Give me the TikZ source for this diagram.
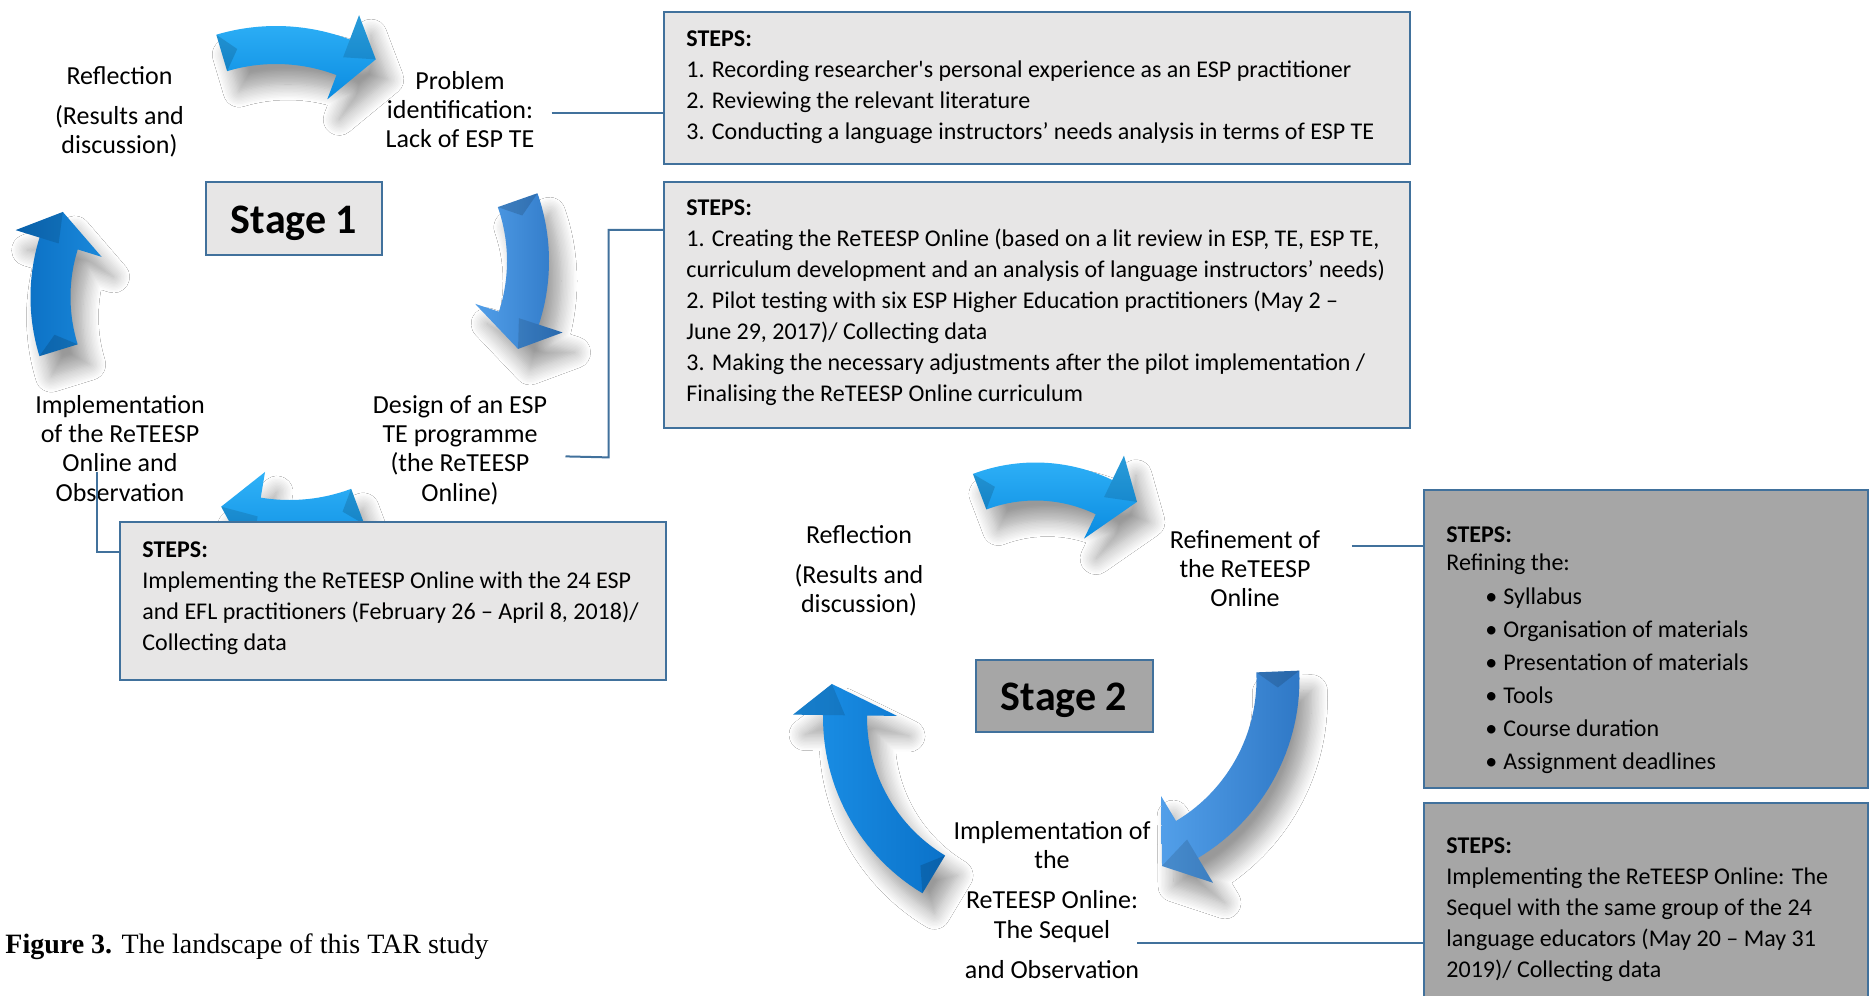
\documentclass[tikz,border=0pt]{standalone}
\usepackage{fontspec}
\setmainfont{Carlito}
\newfontfamily\capfont{Liberation Serif}
\usetikzlibrary{calc,shadows.blur}

\definecolor{edgeblue}{HTML}{41719C}
\definecolor{paleback}{HTML}{E7E6E6}
\definecolor{darkback}{HTML}{A6A6A6}
\definecolor{skyA}{HTML}{30B2F8}
\definecolor{skyB}{HTML}{0A8BE0}
\definecolor{steelA}{HTML}{529FE9}
\definecolor{steelB}{HTML}{2F78C6}
\definecolor{deepA}{HTML}{0A6EC2}
\definecolor{deepB}{HTML}{1A88DA}
\definecolor{deepC}{HTML}{1C92E9}
\definecolor{deepD}{HTML}{0B72C9}

\tikzset{
  stepsbox/.style={draw=edgeblue, line width=1.2pt, inner sep=0pt, outer sep=0pt, anchor=north west},
  palebox/.style={stepsbox, fill=paleback},
  greybox/.style={stepsbox, fill=darkback},
  cyclelbl/.style={font=\fontsize{13pt}{14.6pt}\selectfont, align=center, inner sep=0pt, anchor=north},
  stepstxt/.style={font=\fontsize{12pt}{15.5pt}\selectfont, align=left, inner sep=0pt, anchor=north west},
  stagelbl/.style={font=\fontsize{21pt}{25pt}\selectfont\bfseries, inner sep=0pt, anchor=base},
  conn/.style={draw=edgeblue, line width=1pt},
  arrowshadow/.style={blur shadow={shadow xshift=6pt, shadow yshift=-10pt,
      shadow blur radius=8pt, shadow blur steps=12, shadow opacity=40}},
}

% Curved block arrow running clockwise round a centre.
% #1 centre (x,y)  #2 mid radius  #3 band width  #4 head width
% #5 tail angle  #6 head base angle  #7 tip angle  #8 extra tip radius
% #9 fill options
\newcommand\cyclearrow[9]{%
  \pgfmathsetmacro\arRo{#2+#3/2}%
  \pgfmathsetmacro\arRi{#2-#3/2}%
  \pgfmathsetmacro\arHo{#2+#4/2}%
  \pgfmathsetmacro\arHi{#2-#4/2}%
  \pgfmathsetmacro\arTip{#2+#8}%
  \pgfmathsetmacro\arDt{16/#2*57.3}%
  \begin{scope}[shift={(#1)}]
    \path[arrowshadow,#9]
      plot[domain=#5:#6,samples=30] ({\arRo*cos(\x)},{-\arRo*sin(\x)})
      -- ({\arHo*cos(#6)},{-\arHo*sin(#6)})
      -- ({\arTip*cos(#7)},{-\arTip*sin(#7)})
      -- ({\arHi*cos(#6)},{-\arHi*sin(#6)})
      -- plot[domain=#6:#5,samples=30] ({\arRi*cos(\x)},{-\arRi*sin(\x)})
      -- cycle;
    % bevel facets at the tail and on the outer half of the head
    \fill[black,opacity=0.14] ({\arRo*cos(#5)},{-\arRo*sin(#5)})
      -- ({#2*cos(#5-\arDt)},{-#2*sin(#5-\arDt)})
      -- ({\arRi*cos(#5)},{-\arRi*sin(#5)}) -- cycle;
    \fill[black,opacity=0.12] ({\arHo*cos(#6)},{-\arHo*sin(#6)})
      -- ({\arTip*cos(#7)},{-\arTip*sin(#7)})
      -- ({#2*cos(#6)},{-#2*sin(#6)}) -- cycle;
  \end{scope}}

\begin{document}
\begin{tikzpicture}[x=0.5pt, y=-0.5pt]
\useasboundingbox (0,0) rectangle (1871,995);
\clip (0,0) rectangle (1871,995);
\fill[white] (0,0) rectangle (1871,995);

% ---------- Stage 1 cycle arrows ----------
\cyclearrow{276,235}{190}{38}{90}{106.6}{69.3}{60.4}{12}{top color=skyA, bottom color=skyB}
\cyclearrow{344,261}{184}{42}{92}{19.3}{-18.1}{-26.8}{11}{left color=steelA, right color=steelB}
\cyclearrow{289.5,324}{195}{38}{90}{-69.5}{-99.4}{-110.5}{0}{top color=skyA, bottom color=skyB}
\cyclearrow{230.5,297}{180}{40}{90}{197.2}{162.7}{153.1}{8}{left color=deepA, right color=deepB}

% ---------- Stage 2 cycle arrows ----------
\cyclearrow{1035.5,639.5}{158}{38}{92}{110.7}{64.3}{53.6}{13}{top color=skyA, bottom color=skyB}
\cyclearrow{1091,679}{187}{43}{101}{2.3}{-59.1}{-69.2}{13}{left color=steelA, right color=steelB}
\cyclearrow{1028,717.5}{183}{44}{104}{239}{179.3}{170.3}{16}{left color=deepC, right color=deepD}

% ---------- boxes ----------
\node[palebox, minimum width=373pt, minimum height=76pt]  (b1) at (664,12) {};
\node[palebox, minimum width=373pt, minimum height=123pt] (b2) at (664,182) {};
\node[palebox, minimum width=273pt, minimum height=79pt]  (b3) at (120,522) {};
\node[greybox, minimum width=222pt, minimum height=149pt] (b4) at (1424,490) {};
\node[greybox, minimum width=222pt, minimum height=110pt] (b5) at (1424,803) {};
\node[palebox, minimum width=88pt, minimum height=36.5pt] (st1) at (206,182) {};
\node[greybox, minimum width=88.5pt, minimum height=36pt] (st2) at (976,660) {};

\node[stagelbl] (st1t) at (294,233) {Stage 1};
\node[stagelbl] (st2t) at (1064,710) {Stage 2};

% ---------- box texts ----------
\node[stepstxt] (t1) at (686,24) {\strut\textbf{STEPS:}\\
  \strut 1. Recording researcher\textquotesingle s personal experience as an ESP practitioner\\
  \strut 2. Reviewing the relevant literature\\
  \strut 3. Conducting a language instructors’ needs analysis in terms of ESP TE};

\node[stepstxt] (t2) at (686,193.3) {\strut\textbf{STEPS:}\\
  \strut 1. Creating the ReTEESP Online (based on a lit review in ESP, TE, ESP TE,\\
  \strut curriculum development and an analysis of language instructors’ needs)\\
  \strut 2. Pilot testing with six ESP Higher Education practitioners (May 2 –\\
  \strut June 29, 2017)/ Collecting data\\
  \strut 3. Making the necessary adjustments after the pilot implementation /\\
  \strut Finalising the ReTEESP Online curriculum};

\node[stepstxt] (t3) at (142,535.3) {\strut\textbf{STEPS:}\\
  \strut Implementing the ReTEESP Online with the 24 ESP\\
  \strut and EFL practitioners (February 26 – April 8, 2018)/\\
  \strut Collecting data};

\node[stepstxt, font=\fontsize{12pt}{16.5pt}\selectfont] (t4) at (1446,518.9) {\strut\textbf{STEPS:}\\[-2.5pt]
  \strut Refining the:\\[0.5pt]
  \strut\hspace*{19.5pt}\makebox[9pt][l]{•}Syllabus\\
  \strut\hspace*{19.5pt}\makebox[9pt][l]{•}Organisation of materials\\
  \strut\hspace*{19.5pt}\makebox[9pt][l]{•}Presentation of materials\\
  \strut\hspace*{19.5pt}\makebox[9pt][l]{•}Tools\\
  \strut\hspace*{19.5pt}\makebox[9pt][l]{•}Course duration\\
  \strut\hspace*{19.5pt}\makebox[9pt][l]{•}Assignment deadlines};

\node[stepstxt] (t5) at (1446,831.3) {\strut\textbf{STEPS:}\\
  \strut Implementing the ReTEESP Online: The\\
  \strut Sequel with the same group of the 24\\
  \strut language educators (May 20 – May 31\\
  \strut 2019)/ Collecting data};

% ---------- cycle labels ----------
\node[cyclelbl] (r1) at (119.5,63.6) {\strut Reflection\\[5.4pt] \strut(Results and\\ \strut discussion)};
\node[cyclelbl] (p1) at (460,68.6) {\strut Problem\\ \strut identification:\\ \strut Lack of ESP TE};
\node[cyclelbl] (d1) at (460,392.6) {\strut Design of an ESP\\ \strut TE programme\\ \strut(the ReTEESP\\ \strut Online)};
\node[cyclelbl] (i1) at (120,392.6) {\strut Implementation\\ \strut of the ReTEESP\\ \strut Online and\\ \strut Observation};

\node[cyclelbl] (r2) at (859,523) {\strut Reflection\\[5.2pt] \strut(Results and\\ \strut discussion)};
\node[cyclelbl] (f2) at (1245,527.6) {\strut Refinement of\\ \strut the ReTEESP\\ \strut Online};
\node[cyclelbl] (s2) at (1052,818.6) {\strut Implementation of\\ \strut the\\[5.5pt] \strut ReTEESP Online:\\ \strut The Sequel\\[5.6pt] \strut and Observation};

% ---------- connectors ----------
\coordinate (p1out) at ([xshift=8.5pt]p1.east);
\coordinate (d1out) at ([xshift=9pt,yshift=-2.5pt]d1.east);
\coordinate (i1out) at ([xshift=-11.5pt,yshift=19.2pt]i1.south);
\coordinate (f2out) at ([xshift=15.75pt,yshift=12.7pt]f2.east);
\coordinate (s2out) at ([xshift=-6.75pt,yshift=-20pt]s2.east);

\draw[conn] (p1out) -- (p1out -| b1.west);
\draw[conn] (d1out) -- ++(43,1) |- ($(b2.north west)!0.195!(b2.south west)$);
\draw[conn] (i1out) |- ($(b3.north west)!0.19!(b3.south west)$);
\draw[conn] (f2out) -- (f2out -| b4.west);
\draw[conn] (s2out) -- (s2out -| b5.west);

% ---------- caption ----------
\node[anchor=base west, inner sep=0pt, font=\capfont\fontsize{14pt}{16pt}\selectfont] (cap) at (5,953)
  {\textbf{Figure 3.} The landscape of this TAR study};
\end{tikzpicture}
\end{document}
